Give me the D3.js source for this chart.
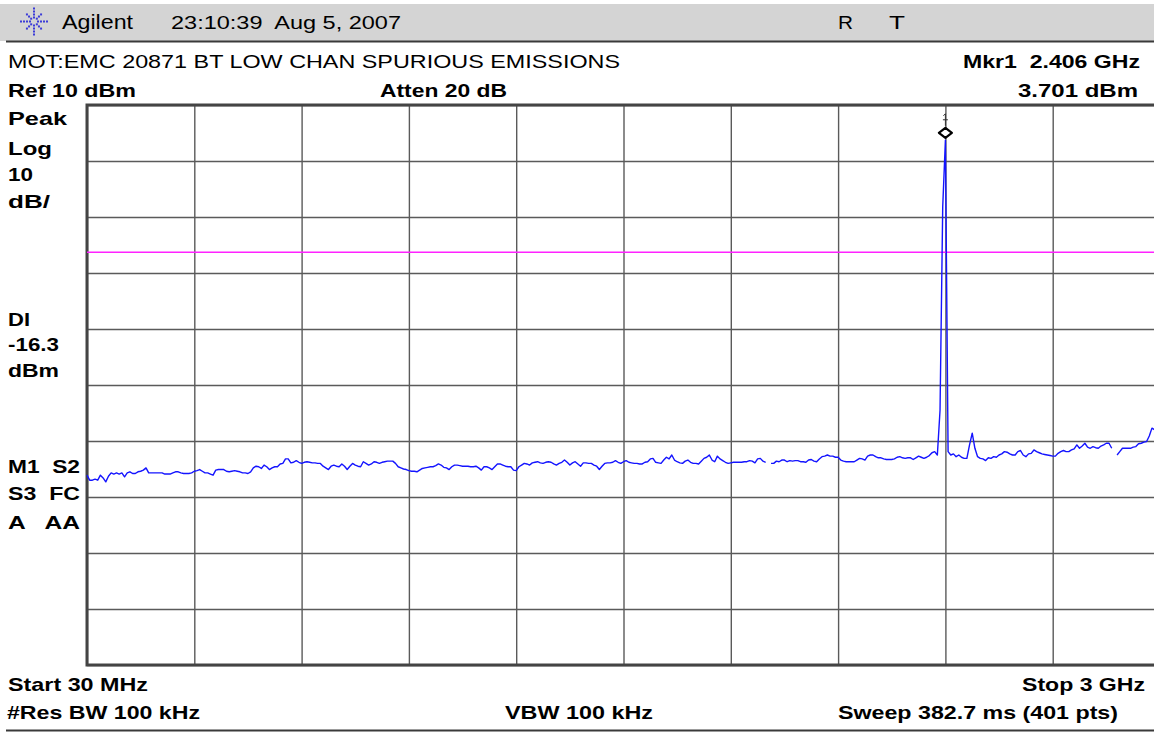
<!DOCTYPE html>
<html><head><meta charset="utf-8">
<script src="https://cdn.jsdelivr.net/npm/d3@7/dist/d3.min.js"></script>
<style>
html,body{margin:0;padding:0;background:#fff;}
svg{display:block;}
text{font-family:"Liberation Sans",Arial,sans-serif;fill:#000;}
.b{font-weight:bold;font-size:19px;}
.r{font-size:18.5px;}
</style></head>
<body>
<svg id="c" width="1154" height="733"></svg>
<script>
// ---- data ----
const freqRange = [30, 3000];           // MHz, start / stop
const levelRange = [-90, 10];           // dBm, bottom / ref level
const gridFreqs = [30, 327, 624, 921, 1218, 1515, 1812, 2109, 2406, 2703, 3000];
const gridLevels = [10, 0, -10, -20, -30, -40, -50, -60, -70, -80, -90];
const displayLine = [-16.3];
const marker = [{freq: 2406, level: 3.701}];
const tracePoints = [401];
const traceLevels = [
-56.1,-57.0,-57.0,-56.8,-57.0,-56.1,-56.6,-57.3,-56.3,-55.7,
-55.9,-55.7,-55.9,-55.7,-56.4,-55.7,-55.5,-55.8,-55.8,-55.5,
-55.4,-55.2,-54.8,-55.7,-55.7,-55.7,-55.7,-55.7,-55.7,-55.9,
-55.9,-55.9,-55.7,-55.5,-55.5,-55.7,-55.8,-55.8,-55.8,-55.7,
-55.4,-55.3,-55.1,-55.4,-55.7,-55.7,-55.9,-56.1,-55.2,-55.1,
-55.1,-55.1,-55.4,-55.5,-55.4,-55.3,-55.4,-55.5,-55.7,-55.7,
-55.8,-55.5,-54.8,-54.5,-54.6,-54.9,-54.3,-54.6,-55.1,-54.8,
-54.6,-54.6,-54.1,-54.0,-53.2,-53.2,-53.9,-53.8,-53.5,-53.8,
-54.0,-53.8,-53.7,-53.8,-53.9,-53.9,-54.0,-54.0,-54.5,-54.8,
-55.1,-54.5,-54.3,-54.5,-54.6,-54.1,-54.5,-55.1,-54.5,-54.0,
-54.3,-54.5,-54.6,-53.7,-54.0,-54.3,-54.1,-53.7,-53.8,-54.0,
-53.8,-53.7,-53.6,-53.6,-53.6,-54.0,-54.6,-54.8,-55.0,-55.1,
-55.3,-55.4,-55.4,-55.5,-55.2,-54.9,-54.8,-54.7,-54.6,-54.6,
-54.4,-54.1,-54.3,-54.7,-54.8,-55.1,-54.6,-54.3,-54.3,-54.4,
-54.5,-54.5,-54.5,-54.6,-54.6,-54.5,-54.8,-55.2,-54.6,-54.6,
-54.8,-55.1,-54.6,-54.1,-54.1,-54.3,-54.5,-54.6,-54.6,-55.2,
-55.3,-54.6,-54.3,-54.0,-54.1,-54.3,-53.9,-53.8,-53.7,-53.9,
-54.0,-53.8,-53.7,-53.8,-54.1,-54.3,-54.0,-53.8,-53.4,-53.8,
-54.3,-53.9,-53.7,-54.1,-54.5,-53.9,-53.9,-54.0,-54.0,-54.3,
-54.5,-55.1,-54.5,-54.0,-53.9,-53.9,-53.8,-53.5,-53.8,-54.0,
-53.7,-53.5,-53.8,-53.9,-54.0,-54.0,-54.1,-54.1,-53.8,-53.7,
-53.2,-53.1,-53.8,-53.9,-54.0,-53.4,-52.9,-53.2,-52.5,-53.4,
-53.7,-53.9,-54.0,-53.6,-53.4,-53.8,-54.0,-54.0,-54.1,-53.6,
-53.1,-52.9,-52.5,-53.4,-53.7,-52.7,-53.2,-53.5,-53.8,-54.0,
-53.9,-53.8,-53.8,-53.8,-53.8,-53.7,-53.7,-53.5,-53.6,-53.9,
-53.2,-53.1,-53.6,-53.8,null,-54.0,-54.0,-53.6,-53.7,-53.4,
-53.4,-53.7,-53.5,-53.6,-53.5,-53.5,-53.7,-53.7,-53.8,-53.4,
-53.3,-53.6,-53.7,-53.2,-52.8,-52.7,-52.5,-52.7,-52.7,-52.9,
-52.9,-53.4,-53.6,-53.7,-53.7,-53.7,-53.7,-53.4,-53.1,-53.2,
-53.4,-52.7,-52.5,-52.5,-52.8,-53.0,-53.0,-53.2,-53.3,-53.3,
-53.3,-53.2,-52.9,-52.8,-53.0,-53.1,-53.0,-53.0,-53.3,-53.0,
-52.7,-52.9,-53.1,-52.9,-52.6,-52.1,-51.9,-52.5,-44.5,-8.2,
3.701,-51.9,-52.5,-52.3,-52.8,-52.5,-52.9,-53.1,-53.1,-50.7,
-48.6,-51.3,-52.8,-53.1,-53.2,-53.5,-53.0,-53.1,-52.8,-52.9,
-52.5,-52.3,-51.9,-52.0,-52.3,-52.5,-52.5,-51.9,-51.7,-52.5,
-52.8,-52.3,-52.2,-51.6,-51.9,-52.1,-52.3,-52.4,-52.5,-52.6,
-52.7,-52.7,-52.2,-51.9,-51.7,-51.9,-51.9,-51.6,-51.4,-50.7,
-51.3,-50.9,-50.4,-51.1,-51.3,-51.0,-51.2,-51.3,-50.9,-50.7,
-50.4,-50.4,-51.3,null,-52.5,-51.9,-51.3,-51.3,-51.3,-51.3,
-51.1,-51.0,-50.5,-50.4,-50.2,-50.1,-49.1,-47.7,-48.0,-48.3,
-48.5
];
const headerTexts = ["Agilent", "23:10:39  Aug 5, 2007", "R", "T"];
const titleText = ["MOT:EMC 20871 BT LOW CHAN SPURIOUS EMISSIONS"];
const infoTexts = ["Mkr1  2.406 GHz", "Ref 10 dBm", "Atten 20 dB", "3.701 dBm"];
const sideLabels = ["Peak", "Log", "10", "dB/", "DI", "-16.3", "dBm", "M1  S2", "S3  FC", "A   AA"];
const footerTexts = ["Start 30 MHz", "Stop 3 GHz", "#Res BW 100 kHz", "VBW 100 kHz", "Sweep 382.7 ms (401 pts)"];

// ---- drawing ----
const svg = d3.select("#c");
const plot = {left: 87, right: 1160, top: 105, bottom: 665};
const x = d3.scaleLinear().domain(freqRange).range([plot.left, plot.right]);
const y = d3.scaleLinear().domain(levelRange).range([plot.bottom, plot.top]);

// header band
svg.append("rect").attr("x", 0).attr("y", 4).attr("width", 1154).attr("height", 37).attr("fill", "#d4d4d4");
svg.append("line").attr("x1", 6).attr("x2", 1154).attr("y1", 41.5).attr("y2", 41.5).attr("stroke", "#3a3a3a").attr("stroke-width", 2);
svg.append("line").attr("x1", 6).attr("x2", 1154).attr("y1", 730.5).attr("y2", 730.5).attr("stroke", "#3a3a3a").attr("stroke-width", 2);

// logo: dotted starburst
const logo = svg.append("g").attr("transform", "translate(34,21.5)");
const angles = d3.range(0, 360, 45);
angles.forEach(a => {
  const rs = (a % 90 === 0) ? [4, 7, 10, 13] : [4, 7, 10];
  rs.forEach(r => {
    logo.append("rect")
      .attr("x", r * Math.cos(a * Math.PI / 180) - 1)
      .attr("y", r * Math.sin(a * Math.PI / 180) - 1)
      .attr("width", 2).attr("height", 2).attr("fill", "#3b3bd8");
  });
});

function txt(t, xx, yy, cls, len, anchor) {
  const e = svg.append("text").attr("x", xx).attr("y", yy).attr("class", cls).text(t)
    .style("white-space", "pre").attr("xml:space", "preserve");
  if (len) e.attr("textLength", len).attr("lengthAdjust", "spacingAndGlyphs");
  if (anchor) e.attr("text-anchor", anchor);
  return e;
}
txt(headerTexts[0], 62, 29, "r", 71).style("font-size", "20px");
txt(headerTexts[1], 171, 29, "r", 230);
txt(headerTexts[2], 838, 29, "r", 15);
txt(headerTexts[3], 889, 29, "r", 16);

txt(titleText[0], 8, 68, "r", 612);
txt(infoTexts[0], 963, 68, "b", 177);
txt(infoTexts[1], 8, 97, "b", 128);
txt(infoTexts[2], 380, 97, "b", 127);
txt(infoTexts[3], 1018, 97, "b", 120);

const sideY = [125, 155, 181, 208, 326, 351, 377, 473, 500, 529];
const sideW = [59, 44, 25, 42, 22, 51, 51, 72, 72, 72];
sideLabels.forEach((s, i) => txt(s, 8, sideY[i], "b", sideW[i]));

txt(footerTexts[0], 8, 691, "b", 140);
txt(footerTexts[1], 1022, 691, "b", 123);
txt(footerTexts[2], 7, 719, "b", 193);
txt(footerTexts[3], 505, 719, "b", 148);
txt(footerTexts[4], 838, 719, "b", 280);

// grid through axes
const gridCol = "#5a5a5a";
const gX = svg.append("g").attr("transform", `translate(0,${plot.top})`)
  .call(d3.axisTop(x).tickValues(gridFreqs).tickSize(-(plot.bottom - plot.top)).tickFormat(""));
const gY = svg.append("g").attr("transform", `translate(${plot.left},0)`)
  .call(d3.axisLeft(y).tickValues(gridLevels).tickSize(-(plot.right - plot.left)).tickFormat(""));
[gX, gY].forEach(g => {
  g.select(".domain").remove();
  g.selectAll(".tick line").attr("stroke", gridCol).attr("stroke-width", 1.4);
});
svg.append("rect").attr("x", plot.left).attr("y", plot.top)
  .attr("width", plot.right - plot.left).attr("height", plot.bottom - plot.top)
  .attr("fill", "none").attr("stroke", "#444").attr("stroke-width", 3);

// display line
svg.selectAll(".dl").data(displayLine).enter().append("line")
  .attr("x1", plot.left).attr("x2", plot.right)
  .attr("y1", d => y(d)).attr("y2", d => y(d))
  .attr("stroke", "#ff22ff").attr("stroke-width", 1.5);

// trace
const step = (freqRange[1] - freqRange[0]) / (tracePoints[0] - 1);
const traceData = traceLevels.map((v, i) => ({f: freqRange[0] + i * step, v}));
svg.append("path").datum(traceData)
  .attr("fill", "none").attr("stroke", "#1414ff").attr("stroke-width", 1.4)
  .attr("stroke-linejoin", "round")
  .attr("d", d3.line().defined(d => d.v !== null).x(d => x(d.f)).y(d => y(d.v)));

// marker
marker.forEach(m => {
  const mx = x(m.freq), my = y(m.level) - 7.5;
  svg.append("path")
    .attr("d", `M${mx - 6.5},${my} L${mx},${my - 5} L${mx + 6.5},${my} L${mx},${my + 5} Z`)
    .attr("fill", "#fff").attr("stroke", "#000").attr("stroke-width", 2.2).attr("stroke-linejoin", "round");
  svg.append("line").attr("x1", mx).attr("x2", mx).attr("y1", my - 19).attr("y2", my - 7)
    .attr("stroke", "#333").attr("stroke-width", 1);
  svg.append("line").attr("x1", mx - 2.5).attr("x2", mx + 2.5).attr("y1", my - 13).attr("y2", my - 13)
    .attr("stroke", "#333").attr("stroke-width", 1);
  svg.append("line").attr("x1", mx - 2).attr("x2", mx).attr("y1", my - 17).attr("y2", my - 19)
    .attr("stroke", "#333").attr("stroke-width", 1);
});
</script>
</body></html>
